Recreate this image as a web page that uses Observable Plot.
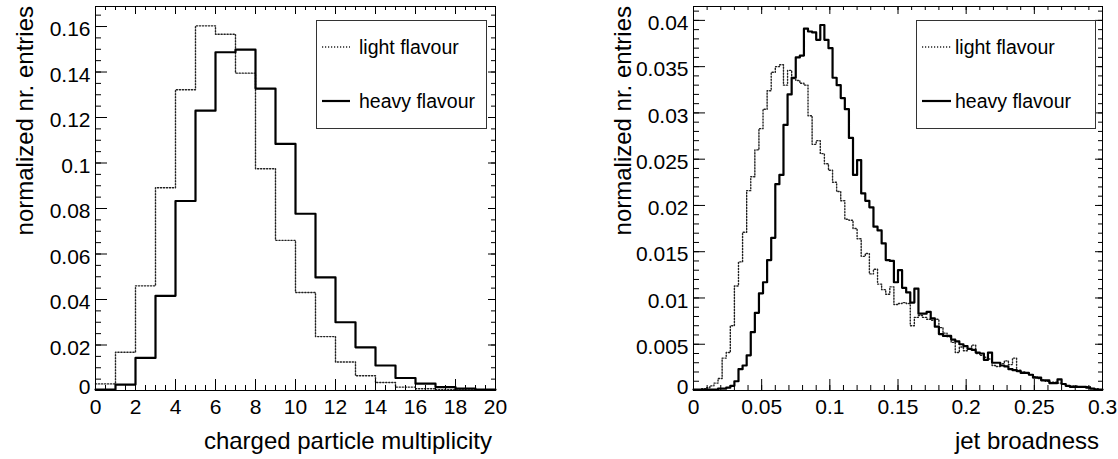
<!DOCTYPE html>
<html><head><meta charset="utf-8">
<script src="https://cdn.jsdelivr.net/npm/d3@7"></script>
<script src="https://cdn.jsdelivr.net/npm/@observablehq/plot@0.6"></script>
<style>
body{margin:0;background:#fff;}
#wrap{position:relative;width:1118px;height:459px;overflow:hidden;background:#fff;}
#wrap svg{position:absolute;top:0;}
</style></head><body><div id="wrap"></div>
<script>
// ---------- data ----------
const seriesNames = ["light flavour", "heavy flavour"];

// left panel: charged particle multiplicity, bins of width 1 from 0 to 20
const multEdges = [0,1,2,3,4,5,6,7,8,9,10,11,12,13,14,15,16,17,18,19,20];
const multLight = [0.0029,0.0168,0.0460,0.0891,0.1322,0.1603,0.1566,0.1395,0.0975,0.0660,0.0431,0.0237,0.0125,0.0065,0.0035,0.0015,0.0008,0.0004,0.0002,0.0001];
const multHeavy = [0.0004,0.0026,0.0143,0.0416,0.0833,0.1230,0.1487,0.1498,0.1327,0.1084,0.0777,0.0497,0.0300,0.0190,0.0110,0.0055,0.0030,0.0015,0.0008,0.0004];
const multXTicks = [0,2,4,6,8,10,12,14,16,18,20];
const multYTicks = [0,0.02,0.04,0.06,0.08,0.1,0.12,0.14,0.16];

// right panel: jet broadness, 100 bins of width 0.003 from 0 to 0.3
const broadBinWidth = 0.003;
const broadLight = [
0.0001,0.0001,0.0002,0.0003,0.0005,0.0008,0.0013,0.0035,0.0041,0.0070,
0.0113,0.0139,0.0171,0.0216,0.0231,0.0260,0.0283,0.0304,0.0324,0.0344,
0.0350,0.0352,0.0330,0.0346,0.0337,0.0335,0.0332,0.0330,0.0297,0.0266,
0.0270,0.0256,0.0245,0.0238,0.0225,0.0215,0.0205,0.0185,0.0184,0.0175,
0.0164,0.0145,0.0148,0.0126,0.0131,0.0115,0.0109,0.0104,0.0112,0.0093,
0.0094,0.0095,0.0094,0.0070,0.0079,0.0081,0.0079,0.0077,0.0076,0.0077,
0.0068,0.0062,0.0058,0.0052,0.0041,0.0047,0.0043,0.0045,0.0049,0.0040,
0.0038,0.0036,0.0034,0.0027,0.0026,0.0029,0.0032,0.0028,0.0035,0.0022,
0.0020,0.0019,0.0017,0.0015,0.0013,0.0011,0.0010,0.0009,0.0009,0.0008,
0.0007,0.0005,0.0005,0.0005,0.0004,0.0004,0.0004,0.0002,0.0002,0.0001];
const broadHeavy = [
0.0001,0.0001,0.0001,0.0001,0.0001,0.0001,0.0002,0.0002,0.0003,0.0005,
0.0010,0.0023,0.0027,0.0038,0.0063,0.0084,0.0105,0.0117,0.0141,0.0165,
0.0223,0.0233,0.0287,0.0320,0.0338,0.0360,0.0362,0.0391,0.0388,0.0387,
0.0379,0.0395,0.0379,0.0370,0.0338,0.0330,0.0316,0.0304,0.0273,0.0233,
0.0249,0.0213,0.0205,0.0198,0.0177,0.0173,0.0159,0.0141,0.0140,0.0117,
0.0130,0.0111,0.0106,0.0095,0.0110,0.0083,0.0083,0.0085,0.0078,0.0069,
0.0061,0.0059,0.0059,0.0055,0.0053,0.0050,0.0048,0.0045,0.0044,0.0041,
0.0040,0.0033,0.0041,0.0030,0.0030,0.0027,0.0026,0.0023,0.0022,0.0021,
0.0019,0.0019,0.0017,0.0014,0.0014,0.0011,0.0011,0.0008,0.0008,0.0012,
0.0007,0.0005,0.0004,0.0004,0.0004,0.0004,0.0003,0.0002,0.0001,0.0001];
const broadXTicks = [0,0.05,0.1,0.15,0.2,0.25,0.3];
const broadYTicks = [0,0.005,0.01,0.015,0.02,0.025,0.03,0.035,0.04];

// ---------- drawing ----------
const FONT = "'Liberation Sans', Arial, Helvetica, sans-serif";
const H = 459, mT = 6, mB = 69;
const LIGHT = {stroke: "#222", width: 1.4, dash: "1.2,1.8"};
const HEAVY = {stroke: "#000", width: 2.2};

function stepPoints(edges, values) {
  const pts = values.map((v, i) => ({x: edges[i], y: v}));
  pts.push({x: edges[values.length], y: values[values.length - 1]});
  return pts;
}

function panel(o) {
  const fw = o.width - o.mL - o.mR, fh = H - mT - mB;
  const svg = Plot.plot({
    width: o.width, height: H,
    marginLeft: o.mL, marginRight: o.mR, marginTop: mT, marginBottom: mB,
    style: {fontFamily: FONT, fontSize: "21px", color: "#000", background: "transparent", overflow: "visible"},
    x: {domain: o.xDomain},
    y: {domain: o.yDomain},
    marks: [
      Plot.line(stepPoints(o.edges, o.light), {x: "x", y: "y", curve: "step-after", stroke: LIGHT.stroke, strokeWidth: LIGHT.width, strokeDasharray: LIGHT.dash}),
      Plot.line(stepPoints(o.edges, o.heavy), {x: "x", y: "y", curve: "step-after", stroke: HEAVY.stroke, strokeWidth: HEAVY.width}),
      Plot.tickY(o.yMajor, {y: d => d, insetRight: fw - 12, stroke: "#000"}),
      Plot.tickY(o.yMinor, {y: d => d, insetRight: fw - 6, stroke: "#000"}),
      Plot.tickY(o.yMajor, {y: d => d, insetLeft: fw - 7, stroke: "#000"}),
      Plot.tickY(o.yMinor, {y: d => d, insetLeft: fw - 4, stroke: "#000"}),
      Plot.tickX(o.xMajor, {x: d => d, insetTop: fh - 11, stroke: "#000"}),
      Plot.tickX(o.xMinor, {x: d => d, insetTop: fh - 5, stroke: "#000"}),
      Plot.tickX(o.xMajor, {x: d => d, insetBottom: fh - 8, stroke: "#000"}),
      Plot.tickX(o.xMinor, {x: d => d, insetBottom: fh - 4, stroke: "#000"}),
      Plot.axisY(o.yMajor.filter(v => v !== 0), {tickSize: 0, tickPadding: 5, tickFormat: d => String(d), dy: 3, label: null}),
      Plot.axisY([0], {tickSize: 0, tickPadding: 5, tickFormat: d => String(d), dy: -3, label: null}),
      Plot.axisX(o.xMajor, {tickSize: 0, tickPadding: 9, tickFormat: d => String(d), label: null}),
      Plot.frame({stroke: "#000", strokeWidth: 1})
    ]
  });
  const s = d3.select(svg);
  s.style("left", o.left + "px");
  // axis titles
  s.append("text").attr("x", o.width - o.mR - 3).attr("y", 449)
    .attr("text-anchor", "end").attr("font-size", 24).attr("font-family", FONT).attr("fill", "#000").text(o.xTitle);
  s.append("text").attr("transform", `translate(${o.mL - 62},${mT}) rotate(-90)`)
    .attr("text-anchor", "end").attr("font-size", 24).attr("font-family", FONT).attr("fill", "#000").text(o.yTitle);
  // legend
  const g = s.append("g").attr("font-family", FONT).attr("font-size", 19.5).attr("fill", "#000").attr("text-anchor", "start");
  const L = o.legend;
  g.append("rect").attr("x", L.x + 0.5).attr("y", L.y + 0.5).attr("width", L.w).attr("height", L.h)
    .attr("fill", "#fff").attr("stroke", "#333").attr("stroke-width", 1);
  const rows = [
    {name: seriesNames[0], dy: 27, stroke: LIGHT.stroke, sw: LIGHT.width, dash: LIGHT.dash},
    {name: seriesNames[1], dy: 81, stroke: HEAVY.stroke, sw: HEAVY.width, dash: null}
  ];
  rows.forEach(r => {
    g.append("line").attr("x1", L.x + 6).attr("x2", L.x + L.sample).attr("y1", L.y + r.dy).attr("y2", L.y + r.dy)
      .attr("stroke", r.stroke).attr("stroke-width", r.sw).attr("stroke-dasharray", r.dash);
    g.append("text").attr("x", L.x + L.textX).attr("y", L.y + r.dy + 6.5).attr("text-anchor", "start").text(r.name);
  });
  document.getElementById("wrap").appendChild(svg);
}

const broadEdges = d3.range(broadHeavy.length + 1).map(i => +(i * broadBinWidth).toFixed(4));

panel({
  left: 0, width: 559, mL: 95, mR: 64,
  xDomain: [0, 20], yDomain: [0, 0.1688],
  edges: multEdges, light: multLight, heavy: multHeavy,
  xMajor: multXTicks, xMinor: d3.range(0, 20.01, 0.5),
  yMajor: multYTicks, yMinor: d3.range(0, 0.1681, 0.005),
  xTitle: "charged particle multiplicity", yTitle: "normalized nr. entries",
  legend: {x: 316, y: 20, w: 170, h: 108, sample: 34, textX: 43}
});

panel({
  left: 559, width: 559, mL: 134, mR: 16,
  xDomain: [0, 0.3], yDomain: [0, 0.0415],
  edges: broadEdges, light: broadLight, heavy: broadHeavy,
  xMajor: broadXTicks, xMinor: d3.range(0, 0.3001, 0.01),
  yMajor: broadYTicks, yMinor: d3.range(0, 0.04151, 0.001),
  xTitle: "jet broadness", yTitle: "normalized nr. entries",
  legend: {x: 916 - 559, y: 20, w: 179, h: 108, sample: 35, textX: 39}
});
</script></body></html>
